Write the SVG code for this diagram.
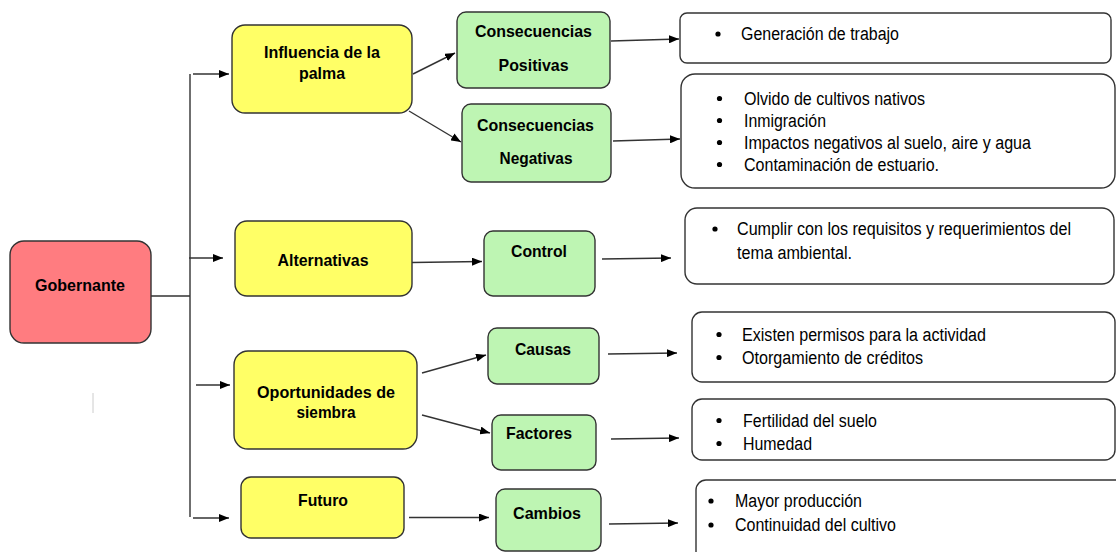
<svg xmlns="http://www.w3.org/2000/svg" width="1116" height="552" viewBox="0 0 1116 552">
<style>
.box{stroke:#333;stroke-width:1.4}
.red{fill:#FF7C80}
.yel{fill:#FFFF66}
.grn{fill:#BEF5B3}
.lst{fill:#fff;stroke:#333;stroke-width:1.4}
.b{font-family:"Liberation Sans",Arial,sans-serif;font-weight:bold;font-size:17px;fill:#000;text-anchor:middle}
.r{font-family:"Liberation Sans",Arial,sans-serif;font-size:18px;fill:#000}
.c{fill:none;stroke:#333;stroke-width:1.4}
.dot{fill:#000}
</style>
<defs>
<marker id="ah" markerUnits="userSpaceOnUse" markerWidth="10" markerHeight="8" refX="10" refY="4" orient="auto">
<path d="M0,0 L10,4 L0,8 z" fill="#000"/>
</marker>
</defs>
<rect width="1116" height="552" fill="#fff"/>
<line x1="93" y1="393" x2="93" y2="413" stroke="#ccc" stroke-width="1"/>
<g id="connectors">
<path class="c" d="M151,296 H190 M190,74 V517"/>
<line class="c" x1="193" y1="74" x2="229" y2="74" marker-end="url(#ah)"/>
<line class="c" x1="189" y1="258" x2="223" y2="258" marker-end="url(#ah)"/>
<line class="c" x1="196" y1="385" x2="230" y2="385" marker-end="url(#ah)"/>
<line class="c" x1="193" y1="518" x2="229" y2="518" marker-end="url(#ah)"/>
<line class="c" x1="413" y1="74" x2="455" y2="53" marker-end="url(#ah)"/>
<line class="c" x1="409" y1="111" x2="461" y2="142" marker-end="url(#ah)"/>
<line class="c" x1="611" y1="41" x2="679" y2="39" marker-end="url(#ah)"/>
<line class="c" x1="613" y1="141" x2="680" y2="139" marker-end="url(#ah)"/>
<line class="c" x1="412" y1="262.5" x2="482" y2="261.5" marker-end="url(#ah)"/>
<line class="c" x1="602" y1="259" x2="671" y2="258" marker-end="url(#ah)"/>
<line class="c" x1="422" y1="373" x2="486" y2="355" marker-end="url(#ah)"/>
<line class="c" x1="422" y1="415" x2="490" y2="433" marker-end="url(#ah)"/>
<line class="c" x1="608" y1="354" x2="677" y2="353" marker-end="url(#ah)"/>
<line class="c" x1="611" y1="439" x2="679" y2="438" marker-end="url(#ah)"/>
<line class="c" x1="409" y1="517.5" x2="489" y2="517.5" marker-end="url(#ah)"/>
<line class="c" x1="609" y1="524" x2="678" y2="523" marker-end="url(#ah)"/>
</g>
<g id="gobernante">
<rect class="box red" x="10" y="241" width="141" height="102" rx="14"/>
<text class="b" x="80" y="291" textLength="90" lengthAdjust="spacingAndGlyphs">Gobernante</text>
</g>
<g id="influencia">
<rect class="box yel" x="232" y="25" width="180" height="88" rx="13"/>
<text class="b" x="322" y="58" textLength="116" lengthAdjust="spacingAndGlyphs">Influencia de la</text>
<text class="b" x="322" y="79" textLength="46" lengthAdjust="spacingAndGlyphs">palma</text>
</g>
<g id="alternativas">
<rect class="box yel" x="235" y="221" width="177" height="75" rx="12"/>
<text class="b" x="323" y="266" textLength="91" lengthAdjust="spacingAndGlyphs">Alternativas</text>
</g>
<g id="oportunidades">
<rect class="box yel" x="234" y="351" width="183" height="98" rx="14"/>
<text class="b" x="326" y="398" textLength="138" lengthAdjust="spacingAndGlyphs">Oportunidades de</text>
<text class="b" x="326" y="418" textLength="59" lengthAdjust="spacingAndGlyphs">siembra</text>
</g>
<g id="futuro">
<rect class="box yel" x="241" y="477" width="163" height="61" rx="10"/>
<text class="b" x="323" y="506" textLength="50" lengthAdjust="spacingAndGlyphs">Futuro</text>
</g>
<g id="positivas">
<rect class="box grn" x="457" y="12" width="153" height="76" rx="9"/>
<text class="b" x="533.5" y="37" textLength="117" lengthAdjust="spacingAndGlyphs">Consecuencias</text>
<text class="b" x="533.5" y="71" textLength="70" lengthAdjust="spacingAndGlyphs">Positivas</text>
</g>
<g id="negativas">
<rect class="box grn" x="462" y="104" width="149" height="78" rx="9"/>
<text class="b" x="535.5" y="131" textLength="117" lengthAdjust="spacingAndGlyphs">Consecuencias</text>
<text class="b" x="536" y="164" textLength="73" lengthAdjust="spacingAndGlyphs">Negativas</text>
</g>
<g id="control">
<rect class="box grn" x="484" y="231" width="111" height="65" rx="9"/>
<text class="b" x="539" y="257" textLength="56" lengthAdjust="spacingAndGlyphs">Control</text>
</g>
<g id="causas">
<rect class="box grn" x="488" y="328" width="111" height="56" rx="9"/>
<text class="b" x="543" y="355" textLength="56" lengthAdjust="spacingAndGlyphs">Causas</text>
</g>
<g id="factores">
<rect class="box grn" x="492" y="415" width="104" height="55" rx="9"/>
<text class="b" x="539" y="439" textLength="66" lengthAdjust="spacingAndGlyphs">Factores</text>
</g>
<g id="cambios">
<rect class="box grn" x="496" y="489" width="105" height="62" rx="9"/>
<text class="b" x="547" y="518.5" textLength="68" lengthAdjust="spacingAndGlyphs">Cambios</text>
</g>
<g id="lista-positivas">
<rect class="lst" x="680" y="13" width="431" height="50" rx="7"/>
<circle class="dot" cx="718" cy="34" r="2.6"/>
<text class="r" x="741" y="39.5" textLength="158" lengthAdjust="spacingAndGlyphs">Generación de trabajo</text>
</g>
<g id="lista-negativas">
<rect class="lst" x="681" y="74" width="434" height="114" rx="14"/>
<circle class="dot" cx="719.5" cy="98.5" r="2.6"/>
<circle class="dot" cx="719.5" cy="120.5" r="2.6"/>
<circle class="dot" cx="719.5" cy="142.5" r="2.6"/>
<circle class="dot" cx="719.5" cy="164.5" r="2.6"/>
<text class="r" x="744" y="104.5" textLength="181" lengthAdjust="spacingAndGlyphs">Olvido de cultivos nativos</text>
<text class="r" x="744" y="126.5" textLength="82" lengthAdjust="spacingAndGlyphs">Inmigración</text>
<text class="r" x="744" y="148.5" textLength="287" lengthAdjust="spacingAndGlyphs">Impactos negativos al suelo, aire y agua</text>
<text class="r" x="744" y="170.5" textLength="195" lengthAdjust="spacingAndGlyphs">Contaminación de estuario.</text>
</g>
<g id="lista-control">
<rect class="lst" x="685" y="208" width="429" height="76" rx="12"/>
<circle class="dot" cx="715" cy="229" r="2.6"/>
<text class="r" x="737" y="235" textLength="334" lengthAdjust="spacingAndGlyphs">Cumplir con los requisitos y requerimientos del</text>
<text class="r" x="737" y="258.5" textLength="115" lengthAdjust="spacingAndGlyphs">tema ambiental.</text>
</g>
<g id="lista-causas">
<rect class="lst" x="692" y="312" width="423" height="70" rx="10"/>
<circle class="dot" cx="719" cy="334.5" r="2.6"/>
<circle class="dot" cx="719" cy="357.5" r="2.6"/>
<text class="r" x="742" y="340.5" textLength="244" lengthAdjust="spacingAndGlyphs">Existen permisos para la actividad</text>
<text class="r" x="742" y="363.5" textLength="181" lengthAdjust="spacingAndGlyphs">Otorgamiento de créditos</text>
</g>
<g id="lista-factores">
<rect class="lst" x="692" y="399" width="423" height="61" rx="10"/>
<circle class="dot" cx="719" cy="420.5" r="2.6"/>
<circle class="dot" cx="719" cy="443.5" r="2.6"/>
<text class="r" x="743" y="426.5" textLength="134" lengthAdjust="spacingAndGlyphs">Fertilidad del suelo</text>
<text class="r" x="743" y="449.5" textLength="69" lengthAdjust="spacingAndGlyphs">Humedad</text>
</g>
<g id="lista-cambios">
<rect class="lst" x="696" y="480" width="430" height="90" rx="10"/>
<circle class="dot" cx="711" cy="501" r="2.6"/>
<circle class="dot" cx="711" cy="525" r="2.6"/>
<text class="r" x="735" y="507" textLength="127" lengthAdjust="spacingAndGlyphs">Mayor producción</text>
<text class="r" x="735" y="531" textLength="161" lengthAdjust="spacingAndGlyphs">Continuidad del cultivo</text>
</g>
</svg>
